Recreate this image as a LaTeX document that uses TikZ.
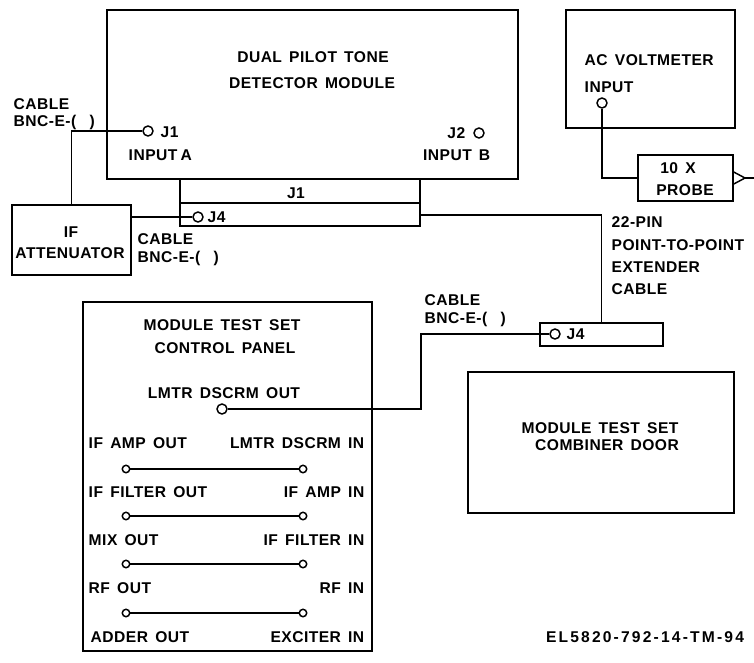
\documentclass[tikz,border=0pt]{standalone}
\usepackage{fontspec}
\setmainfont{Liberation Sans}[LetterSpace=3,WordSpace=1.5]
\usetikzlibrary{fit}
\begin{document}
\begin{tikzpicture}[x=0.75pt,y=-0.75pt,
  line width=1.1pt,
  box/.style={draw,inner sep=0pt,line width=1.1pt},
  lbl/.style={inner sep=0pt,font=\fontsize{11.7}{14}\selectfont\bfseries},
  port/.style={circle,draw,fill=white,inner sep=0pt,minimum size=7.5pt,line width=1.1pt},
  sport/.style={circle,draw,fill=white,inner sep=0pt,minimum size=5.6pt,line width=1.1pt},
  wire/.style={line width=1.1pt}]
\useasboundingbox (0,0) rectangle (754,662);

% ---------- boxes ----------
\node[box,fit={(107,10) (518,179)}] (dptd) {};
\node[box,fit={(180,179) (420,226)}] (conn) {};
\draw[wire] (conn.west |- 0,203) -- (conn.east |- 0,203);
\node[box,fit={(12,205) (131,275)}] (att) {};
\node[box,fit={(566,10) (735,128)}] (vm) {};
\node[box,fit={(638,155) (733,201)}] (probe) {};
\node[box,fit={(540,323) (663,346)}] (ext) {};
\node[box,fit={(83,302) (372,651)}] (panel) {};
\node[box,fit={(468,372) (734,513)}] (door) {};

% ---------- ports ----------
\node[port] (pj1) at (148,131) {};
\node[port] (pj2) at (479,133) {};
\node[port] (pj4) at (198,217) {};
\node[port] (pvin) at (602,103) {};
\node[port] (pej4) at (555,334) {};
\node[port] (plmtr) at (222,409) {};
\node[sport] (l1) at (126,469) {};
\node[sport] (r1) at (303,469) {};
\node[sport] (l2) at (126,516) {};
\node[sport] (r2) at (303,516) {};
\node[sport] (l3) at (126,564) {};
\node[sport] (r3) at (303,564) {};
\node[sport] (l4) at (126,613) {};
\node[sport] (r4) at (303,613) {};

\coordinate (bend) at (421,370);
\coordinate (tip) at (745,178);
\coordinate (free) at (754,178);

% ---------- connectors ----------
\draw[wire] (att.north) |- (pj1.west);
\draw[wire] (att.east |- pj4) -- (pj4.west);
\draw[wire] (conn.east |- 0,215) -| (ext.north);
\draw[wire] (pvin.south) |- (probe.west);
\draw[wire] (probe.east |- 0,172) -- (tip) -- (probe.east |- 0,184);
\draw[wire] (tip) -- (free);
\draw[wire] (pej4.west) -| (bend) |- (plmtr.east);
\draw[wire] (l1) -- (r1);
\draw[wire] (l2) -- (r2);
\draw[wire] (l3) -- (r3);
\draw[wire] (l4) -- (r4);

% ---------- texts ----------
\node[lbl,anchor=base] (t1) at (313,62) {DUAL PILOT TONE};
\node[lbl,anchor=base] (t2) at (312,88) {DETECTOR MODULE};
\node[lbl,anchor=base west] (t3) at (160,137) {J1};
\node[lbl,anchor=base west] (t4) at (128,160) {INPUT\hspace{-3pt} A};
\node[lbl,anchor=base east] (t5) at (466,138) {J2};
\node[lbl,anchor=base east] (t6) at (491,160) {INPUT B};
\node[lbl,anchor=base] (t7) at (296,198) {J1};
\node[lbl,anchor=base west] (t8) at (207,222) {J4};
\node[lbl,anchor=base west] (t9) at (13,109) {CABLE};
\node[lbl,anchor=base west] (t10) at (13,126) {BNC-E-(\hspace{10pt})};
\node[lbl,anchor=base] (t11) at (71,237) {IF};
\node[lbl,anchor=base] (t12) at (70,258) {ATTENUATOR};
\node[lbl,anchor=base west] (t13) at (137,244) {CABLE};
\node[lbl,anchor=base west] (t14) at (137,262) {BNC-E-(\hspace{10pt})};
\node[lbl,anchor=base west] (t15) at (584,65) {AC VOLTMETER};
\node[lbl,anchor=base west] (t16) at (584,92) {INPUT};
\node[lbl,anchor=base] (t17) at (678,173) {10 X};
\node[lbl,anchor=base] (t18) at (685,195) {PROBE};
\node[lbl,anchor=base west] (t19) at (611,227) {22-PIN};
\node[lbl,anchor=base west] (t20) at (611,250) {POINT-TO-POINT};
\node[lbl,anchor=base west] (t21) at (611,272) {EXTENDER};
\node[lbl,anchor=base west] (t22) at (611,294) {CABLE};
\node[lbl,anchor=base west] (t23) at (424,305) {CABLE};
\node[lbl,anchor=base west] (t24) at (424,323) {BNC-E-(\hspace{10pt})};
\node[lbl,anchor=base west] (t25) at (566,339) {J4};
\node[lbl,anchor=base] (t26) at (222,330) {MODULE TEST SET};
\node[lbl,anchor=base] (t27) at (225,353) {CONTROL PANEL};
\node[lbl,anchor=base] (t28) at (224,398) {LMTR DSCRM OUT};
\node[lbl,anchor=base west] (t29) at (88,448) {IF AMP OUT};
\node[lbl,anchor=base east] (t30) at (365,448) {LMTR DSCRM IN};
\node[lbl,anchor=base west] (t31) at (88,497) {IF FILTER OUT};
\node[lbl,anchor=base east] (t32) at (365,497) {IF AMP IN};
\node[lbl,anchor=base west] (t33) at (88,545) {MIX OUT};
\node[lbl,anchor=base east] (t34) at (365,545) {IF FILTER IN};
\node[lbl,anchor=base west] (t35) at (88,593) {RF OUT};
\node[lbl,anchor=base east] (t36) at (365,593) {RF IN};
\node[lbl,anchor=base west] (t37) at (90,642) {ADDER OUT};
\node[lbl,anchor=base east] (t38) at (365,642) {EXCITER IN};
\node[lbl,anchor=base] (t39) at (600,433) {MODULE TEST SET};
\node[lbl,anchor=base] (t40) at (607,450) {COMBINER DOOR};
\node[lbl,anchor=base] (t41) at (645,642) {\addfontfeatures{LetterSpace=14}EL5820-792-14-TM-94};
\end{tikzpicture}
\end{document}
